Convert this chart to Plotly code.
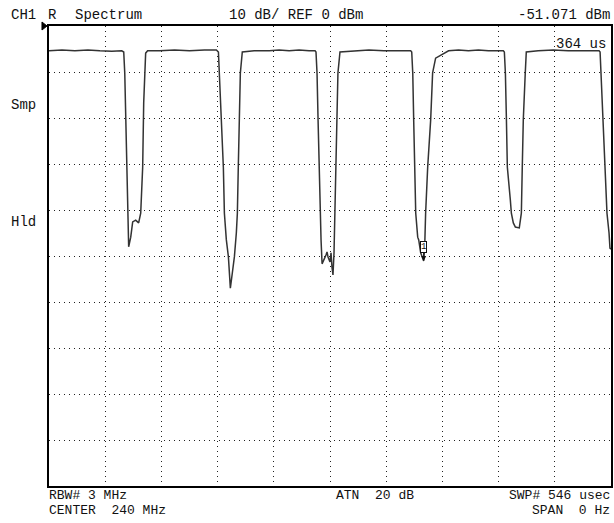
import plotly.graph_objects as go

# Sweep time axis (usec) and trace level (dBm)
time_us = [
    0, 12.6, 25.2, 37.8, 49.4, 61.0, 70.7,
    72.6, 73.6, 74.5, 75.5, 76.5, 77.4, 79.4, 81.3, 84.2, 87.1, 89.1, 91.0, 92.0, 93.9, 95.8,
    107.5, 122.0, 136.5, 151.0, 162.6,
    164.6, 165.5, 166.5, 167.5, 169.4, 170.4, 172.3, 174.3, 175.2, 176.2, 178.1, 180.1, 182.0,
    183.0, 183.9, 184.9, 185.9, 187.8,
    199.4, 214.0, 223.6, 233.3, 243.0, 252.7, 258.5,
    259.4, 260.4, 261.4, 262.4, 263.3, 264.3, 265.3, 267.2, 269.1, 270.1, 271.1, 273.0, 274.0,
    274.9, 275.9, 276.9, 277.8, 278.8, 279.8, 280.7, 282.7,
    296.2, 310.8, 325.3, 339.8, 351.4,
    352.4, 353.4, 354.3, 355.3, 356.3, 358.2, 359.2, 361.1, 363.0, 364.0, 365.0, 365.9, 367.9,
    370.8, 372.7, 375.6,
    388.2, 397.9, 407.5, 417.2, 426.9, 441.4,
    442.4, 443.4, 444.4, 445.3, 448.2, 449.2, 451.1, 453.1, 456.9, 458.9, 459.8, 460.8, 462.7, 463.7,
    475.3, 489.9, 504.4, 518.9, 534.4,
    535.4, 536.3, 538.3, 540.2, 542.1, 544.1, 545.0, 546.0,
]
level_dbm = [
    -5.4, -5.2, -5.4, -5.2, -5.4, -5.5, -5.4,
    -5.65, -10.2, -21.1, -32.0, -42.6, -48.0, -45.9, -42.6, -42.2, -42.8, -40.7, -30.7, -16.7, -5.9, -5.4,
    -5.4, -5.2, -5.4, -5.2, -5.2,
    -5.65, -10.0, -16.7, -20.4, -30.7, -40.7, -46.5, -50.2, -53.0, -57.0, -53.7, -50.2, -45.0,
    -40.7, -30.7, -20.4, -10.2, -5.65,
    -5.4, -5.4, -5.2, -5.4, -5.2, -5.4, -5.4,
    -5.65, -10.2, -20.4, -30.7, -40.7, -46.5, -51.7, -50.9, -49.8, -49.1, -50.2, -51.3, -49.3,
    -52.4, -54.1, -49.3, -40.7, -30.7, -20.4, -10.2, -5.65,
    -5.4, -5.2, -5.4, -5.4, -5.4,
    -5.65, -10.2, -20.4, -30.7, -40.7, -45.9, -46.5, -49.3, -50.4, -51.071, -48.0, -40.7, -30.7,
    -20.4, -10.2, -7.0,
    -5.4, -5.2, -5.4, -5.2, -5.4, -5.4,
    -5.65, -10.2, -20.4, -30.7, -37.8, -40.7, -42.8, -43.7, -43.9, -40.7, -30.7, -20.4, -10.2, -5.65,
    -5.4, -5.2, -5.4, -5.4, -5.4,
    -5.65, -10.2, -20.4, -30.7, -40.7, -45.0, -48.3, -48.5,
]

marker_time = [364.0]
marker_level = [-51.071]

sweep_us = 546
ref_dbm = 0
db_per_div = 10
n_div = 10

top_labels = ["CH1", "R", "Spectrum", "10 dB/ REF 0 dBm", "-51.071 dBm"]
side_labels = ["Smp", "Hld"]
bottom_labels = ["RBW# 3 MHz", "CENTER  240 MHz", "ATN  20 dB", "SWP# 546 usec", "SPAN  0 Hz"]
marker_label = "364 us"

FAMILY = "Liberation Mono, DejaVu Sans Mono, monospace"
FONT = dict(family=FAMILY, size=14, color="#111111")
FONT_BOTTOM = dict(family=FAMILY, size=13, color="#111111")

fig = go.Figure()
fig.add_trace(go.Scatter(
    x=time_us, y=level_dbm, mode="lines",
    line=dict(color="#333333", width=1.5), hoverinfo="skip", showlegend=False,
))

fig.update_xaxes(
    range=[0, sweep_us], dtick=sweep_us / n_div, tick0=0, showticklabels=False, ticks="",
    showgrid=True, gridcolor="#222222", gridwidth=1, griddash="1px,4px",
    showline=True, linecolor="#000000", linewidth=1.5, mirror=True, zeroline=False,
)
fig.update_yaxes(
    range=[ref_dbm - db_per_div * n_div, ref_dbm], dtick=db_per_div, tick0=0,
    showticklabels=False, ticks="",
    showgrid=True, gridcolor="#222222", gridwidth=1, griddash="1px,4px",
    showline=True, linecolor="#000000", linewidth=1.5, mirror=True, zeroline=False,
)

ann = []
def lab(text, x, y, xanchor="left", font=FONT):
    ann.append(dict(text=text, x=x, y=y, xref="paper", yref="paper", xanchor=xanchor,
                    yanchor="middle", showarrow=False, font=font, borderpad=0))

top_y = 1.025
lab(top_labels[0], -0.069, top_y)
lab(top_labels[1], -0.004, top_y)
lab(top_labels[2], 0.044, top_y)
lab(top_labels[3], 0.318, top_y)
lab(top_labels[4], 1.0, top_y, "right")
lab(side_labels[0], -0.069, 0.828)
lab(side_labels[1], -0.069, 0.574)
lab(bottom_labels[0], -0.002, -0.020, font=FONT_BOTTOM)
lab(bottom_labels[1], -0.002, -0.054, font=FONT_BOTTOM)
lab(bottom_labels[2], 0.509, -0.020, font=FONT_BOTTOM)
lab(bottom_labels[3], 1.0, -0.020, "right", font=FONT_BOTTOM)
lab(bottom_labels[4], 1.0, -0.054, "right", font=FONT_BOTTOM)
lab(marker_label, 0.993, 0.961, "right")

# marker 1 at 364 us
ann.append(dict(
    x=marker_time[0], y=marker_level[0], xref="x", yref="y", text="1",
    showarrow=True, arrowhead=2, arrowsize=1, arrowwidth=1, arrowcolor="#111111",
    ax=0, ay=-14, font=dict(family="Liberation Mono", size=9, color="#111111"),
    bordercolor="#111111", borderwidth=1, borderpad=0, bgcolor="white",
))

fig.update_layout(
    width=614, height=523,
    margin=dict(l=49, r=1, t=26, b=37),
    paper_bgcolor="white", plot_bgcolor="white",
    annotations=ann,
    shapes=[dict(type="path", xref="paper", yref="paper",
                 path="M -0.0125 1.0087 L -0.0035 1.0 L -0.0125 0.9913 Z",
                 fillcolor="#000000", line=dict(color="#000000", width=1))],
)

fig.write_html("out.html", config={"displayModeBar": False},
               post_script="document.body.style.margin='0';")
